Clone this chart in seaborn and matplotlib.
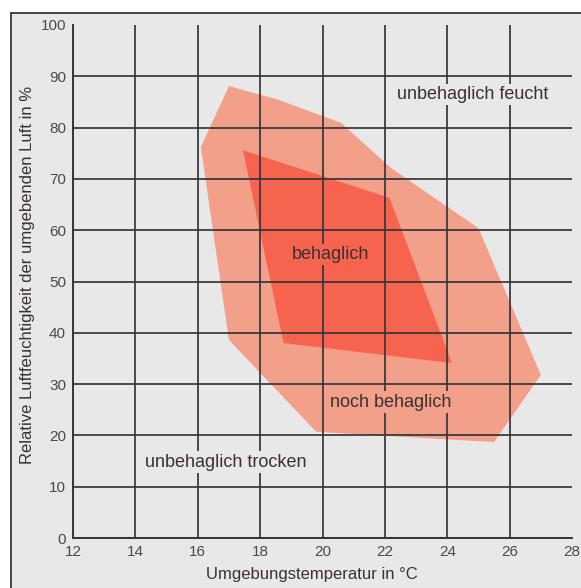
import seaborn as sns
import matplotlib.pyplot as plt
from matplotlib.patches import Rectangle

# comfort zones (temperature in °C, relative humidity in %)
outer_temp = [17.0, 18.6, 20.6, 22.2, 25.0, 27.0, 25.5, 19.8, 17.0, 16.1]
outer_hum = [88.1, 85.4, 80.9, 72.1, 60.4, 31.8, 18.7, 20.7, 38.6, 76.2]

inner_temp = [17.45, 22.15, 24.15, 18.75]
inner_hum = [75.6, 66.3, 34.1, 38.0]

zone_labels = ['unbehaglich feucht', 'behaglich', 'noch behaglich', 'unbehaglich trocken']
label_temp = [24.8, 20.25, 22.2, 16.9]
label_hum = [86.5, 55.2, 26.5, 14.8]

x_ticks = list(range(12, 29, 2))
y_ticks = list(range(0, 101, 10))

bg = '#e8e8e8'
line_col = '#35353a'
outer_col = '#f3a08b'
inner_col = '#f6644f'

sns.set_theme(style='white')
plt.rcParams['font.family'] = ['Liberation Sans', 'DejaVu Sans']

fig = plt.figure(figsize=(5.81, 5.88), dpi=100)
fig.patch.set_facecolor('white')
fig.patches.append(Rectangle((11 / 581, -0.02), 1.05, 1 - 13 / 588 + 0.02,
                             transform=fig.transFigure, facecolor=bg,
                             edgecolor=line_col, linewidth=1.3, zorder=-5))

ax = fig.add_axes([73 / 581, 1 - 538 / 588, 499 / 581, 513 / 588])
ax.set_facecolor('none')

ax.fill(outer_temp, outer_hum, color=outer_col, lw=0, zorder=1)
ax.fill(inner_temp, inner_hum, color=inner_col, lw=0, zorder=1.5)

ax.set_xlim(12, 28)
ax.set_ylim(0, 100)
ax.set_xticks(x_ticks)
ax.set_yticks(y_ticks)
ax.grid(True, color=line_col, linewidth=1.25)
ax.set_axisbelow(False)
ax.get_xgridlines()[-1].set_visible(False)
ax.get_ygridlines()[-1].set_visible(False)

for side in ['top', 'right']:
    ax.spines[side].set_visible(False)
for side in ['left', 'bottom']:
    ax.spines[side].set_color(line_col)
    ax.spines[side].set_linewidth(1.4)

ax.tick_params(length=0, labelsize=11, labelcolor='#4a4a4a')
ax.tick_params(axis='x', pad=5)
ax.tick_params(axis='y', pad=5)

ax.set_xlabel('Umgebungstemperatur in °C', fontsize=12, color='#3a3035')
ax.set_ylabel('Relative Luftfeuchtigkeit der umgebenden Luft in %', fontsize=12, color='#3a3035')
ax.xaxis.set_label_coords(0.479, -0.057)
ax.yaxis.set_label_coords(-0.077, 0.513)

box_cols = [bg, inner_col, outer_col, bg]
for txt, tx, hy, bc in zip(zone_labels, label_temp, label_hum, box_cols):
    ax.text(tx, hy, txt, ha='center', va='center', fontsize=13, color='#3a3035',
            bbox=dict(facecolor=bc, edgecolor='none', pad=1.5), zorder=4)

fig.savefig('out.png', dpi=100)
